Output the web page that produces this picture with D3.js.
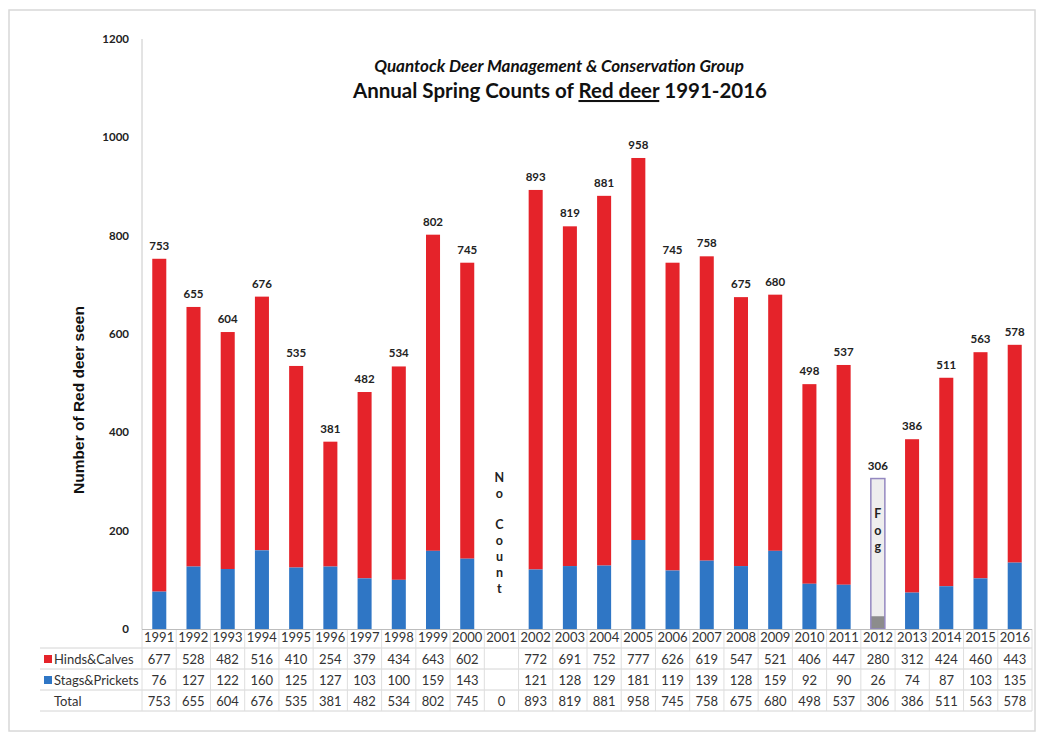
<!DOCTYPE html>
<html>
<head>
<meta charset="utf-8">
<script src="https://cdn.jsdelivr.net/npm/d3@7"></script>
<style>
  body { margin: 0; background: #fff; }
  svg { font-family: Lato, "Open Sans", sans-serif; }
  .tick-lbl { font-size: 11.5px; font-weight: bold; fill: #222; }
  .val { font-size: 11.5px; font-weight: bold; fill: #222; }
  .cell { font-size: 13px; fill: #333; }
</style>
</head>
<body>
<script>
// counts
const years = ["1991","1992","1993","1994","1995","1996","1997","1998","1999","2000","2001","2002","2003",
               "2004","2005","2006","2007","2008","2009","2010","2011","2012","2013","2014","2015","2016"];
const hinds = [677,528,482,516,410,254,379,434,643,602,null,772,691,752,777,626,619,547,521,406,447,280,312,424,460,443];
const stags = [76,127,122,160,125,127,103,100,159,143,null,121,128,129,181,119,139,128,159,92,90,26,74,87,103,135];
const totals = [753,655,604,676,535,381,482,534,802,745,0,893,819,881,958,745,758,675,680,498,537,306,386,511,563,578];
const yTicks = [0,200,400,600,800,1000,1200];
const noCountYear = "2001", fogYear = "2012";

const width = 1041, height = 745;
const red = "#e5232a", blue = "#2f76c5";

const svg = d3.select("body").append("svg")
    .attr("width", width).attr("height", height);

// faint frame round the picture
svg.append("rect").attr("x", 9).attr("y", 10).attr("width", 1026).attr("height", 721)
   .attr("fill", "none").attr("stroke", "#d8d8d8").attr("stroke-width", 1.5);

const x = d3.scaleBand().domain(years).range([142, 1032]).paddingInner(0.59).paddingOuter(0.3);
const col = d3.scaleBand().domain(years).range([142, 1032]);
const y = d3.scaleLinear().domain([0, 1200]).range([629, 39]);

// y axis
svg.append("line").attr("x1", 142).attr("x2", 142).attr("y1", y(1200)).attr("y2", y(0))
   .attr("stroke", "#c8c8c8");
svg.selectAll(".tick-lbl").data(yTicks).enter().append("text")
   .attr("class", "tick-lbl").attr("x", 129).attr("y", d => y(d) + 4)
   .attr("text-anchor", "end").text(d => d);

svg.append("text").attr("transform", "translate(84,400) rotate(-90)")
   .attr("text-anchor", "middle").style("font-family", "'Liberation Sans', Arial, sans-serif")
   .style("font-size", "15.5px").style("font-weight", "bold")
   .attr("fill", "#111").text("Number of Red deer seen");

// titles
svg.append("text").attr("x", 559).attr("y", 72).attr("text-anchor", "middle")
   .style("font-size", "17px").style("font-weight", "bold").style("font-style", "italic")
   .attr("fill", "#111").text("Quantock Deer Management & Conservation Group");
const t2 = svg.append("text").attr("x", 560).attr("y", 98).attr("text-anchor", "middle")
   .style("font-size", "20.5px").style("font-weight", "bold").attr("fill", "#111");
t2.append("tspan").text("Annual Spring Counts of ");
t2.append("tspan").attr("text-decoration", "underline").text("Red deer");
t2.append("tspan").text(" 1991-2016");

// bars
const rows = years.map((yr, i) => ({ yr, h: hinds[i], s: stags[i], t: totals[i] }))
    .filter(d => d.h != null);

const bars = svg.append("g").selectAll("g").data(rows).enter().append("g");

bars.append("rect")
   .attr("x", d => x(d.yr)).attr("width", x.bandwidth())
   .attr("y", d => y(d.t)).attr("height", d => y(d.s) - y(d.t))
   .attr("fill", d => d.yr === fogYear ? "#eeeeee" : red);
bars.append("rect")
   .attr("x", d => x(d.yr)).attr("width", x.bandwidth())
   .attr("y", d => y(d.s)).attr("height", d => y(0) - y(d.s))
   .attr("fill", d => d.yr === fogYear ? "#8c8c8c" : blue);

// outline on the fog bar
const fog = rows.find(d => d.yr === fogYear);
svg.append("rect").attr("x", x(fogYear)).attr("width", x.bandwidth())
   .attr("y", y(fog.t)).attr("height", y(0) - y(fog.t))
   .attr("fill", "none").attr("stroke", "#9488c0").attr("stroke-width", 1.5);

svg.selectAll(".val").data(rows).enter().append("text")
   .attr("class", "val").attr("x", d => x(d.yr) + x.bandwidth() / 2)
   .attr("y", d => y(d.t) - 9).attr("text-anchor", "middle").text(d => d.t);

// vertical letters
function stack(word, cx, y0, step) {
  word.split("").forEach((ch, i) => {
    if (ch === " ") return;
    svg.append("text").attr("x", cx).attr("y", y0 + i * step).attr("text-anchor", "middle")
       .style("font-size", "12.5px").style("font-weight", "bold").attr("fill", "#222").text(ch);
  });
}
stack("No Count", col(noCountYear) + col.bandwidth() / 2 - 2, 482, 15.8);
stack("Fog", x(fogYear) + x.bandwidth() / 2, 518, 16.5);

// data table
const rowY = [637, 659, 680, 701];
const lineY = [648, 669, 690, 711];
const tbl = svg.append("g");
lineY.forEach(ly => tbl.append("line").attr("x1", 40).attr("x2", 1032)
   .attr("y1", ly).attr("y2", ly).attr("stroke", "#d4d4d4"));
years.concat(["end"]).forEach((yr, i) => {
  const xx = 142 + i * col.step();
  tbl.append("line").attr("x1", xx).attr("x2", xx).attr("y1", 629).attr("y2", 711)
     .attr("stroke", "#dedede");
});
tbl.append("line").attr("x1", 142).attr("x2", 1032).attr("y1", 629.5).attr("y2", 629.5)
   .attr("stroke", "#bdbdbd");

const rowsTxt = [
  { lab: null, vals: years },
  { lab: "Hinds&Calves", key: red, vals: hinds },
  { lab: "Stags&Prickets", key: blue, vals: stags },
  { lab: "Total", key: null, vals: totals }
];
rowsTxt.forEach((r, ri) => {
  if (r.lab) {
    if (r.key) tbl.append("rect").attr("x", 44).attr("y", rowY[ri] - 4).attr("width", 8)
       .attr("height", 8).attr("fill", r.key);
    tbl.append("text").attr("class", "cell").attr("x", 54).attr("y", rowY[ri] + 4.5).text(r.lab);
  }
  r.vals.forEach((v, i) => {
    if (v == null) return;
    tbl.append("text").attr("class", "cell")
       .attr("x", col(years[i]) + col.bandwidth() / 2).attr("y", rowY[ri] + 4.5)
       .attr("text-anchor", "middle").text(v);
  });
});
</script>
</body>
</html>
